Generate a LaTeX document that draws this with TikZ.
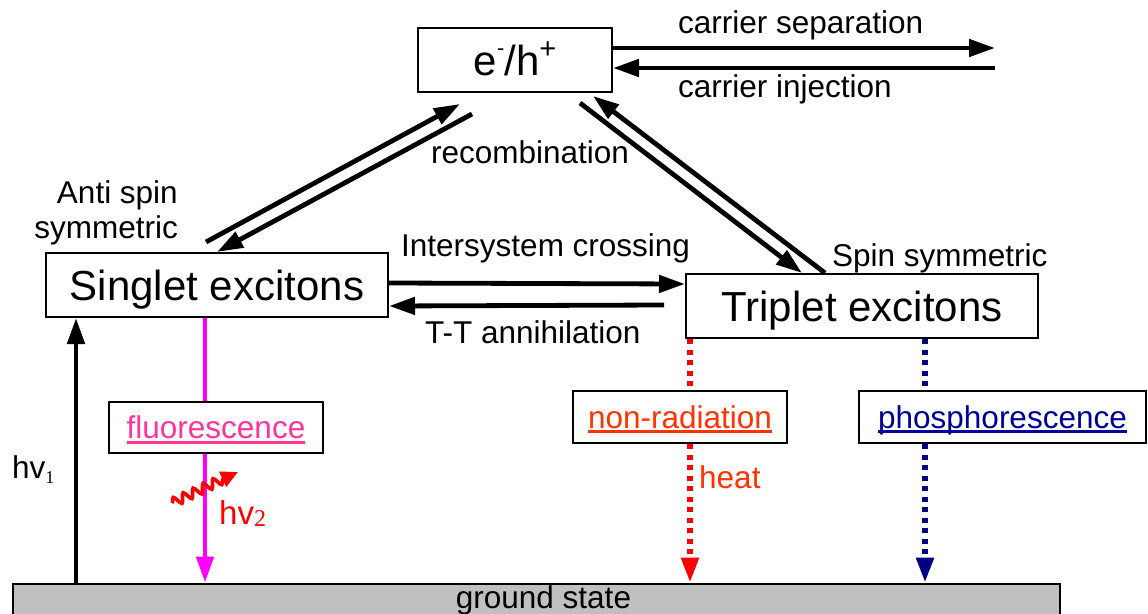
\documentclass[tikz,border=0pt]{standalone}
\usepackage{fontspec}
\setmainfont{Liberation Sans}
\newfontfamily\subfont{Liberation Serif}
\usetikzlibrary{arrows.meta,decorations.pathmorphing,calc}
\definecolor{fluo}{HTML}{FF3399}
\definecolor{mag}{HTML}{FF00FF}
\definecolor{nonrad}{HTML}{FF3300}
\definecolor{phostxt}{HTML}{000099}
\definecolor{navyline}{HTML}{000080}
\definecolor{groundgray}{HTML}{C0C0C0}
\newsavebox\ulbox
\newcommand\myul[1]{\sbox\ulbox{#1}\rlap{\rule[-5pt]{\wd\ulbox}{3pt}}\usebox\ulbox}
\begin{document}
\begin{tikzpicture}[x=1pt,y=-1pt,
  lbl/.style={font=\fontsize{31.5}{35}\selectfont, inner sep=0pt},
  bigbox/.style={draw, line width=2pt, fill=white, inner sep=0pt, font=\fontsize{42}{48}\selectfont, text height=30pt, text depth=0pt},
  smallbox/.style={draw, line width=2pt, fill=white, inner sep=0pt, font=\fontsize{31.5}{36}\selectfont, text height=22.6pt, text depth=0pt},
  arr/.style={line width=4.8pt, -{Triangle[length=26pt,width=17pt]}},
  dots/.style={line width=5.5pt, dash pattern=on 5pt off 5.5pt, -{Triangle[length=25pt,width=17pt]}},
]
\clip (0,0) rectangle (1148,613);
\fill[white] (0,0) rectangle (1148,613);

% main boxes
\node[bigbox, minimum width=194pt, minimum height=64pt] (eh) at (515,60)
  {e\raisebox{20pt}{\fontsize{22}{22}\selectfont -}/h\raisebox{17pt}{\fontsize{29}{29}\selectfont +}};
\node[bigbox, minimum width=342pt, minimum height=64pt] (s) at (217,285) {Singlet excitons};
\node[bigbox, minimum width=352pt, minimum height=64pt] (t) at (862,306) {Triplet excitons};
\node[draw, line width=2pt, fill=groundgray, minimum width=1047pt, minimum height=50pt,
  inner sep=0pt, text height=0pt, text depth=0pt, font=\fontsize{31.5}{36}\selectfont] (g) at (536.5,608.5)
  {\hspace*{14pt}ground state};

% free ends
\coordinate (csEnd) at (995,48);
\coordinate (ciStart) at (995,68);
\coordinate (r1a) at (206,242);
\coordinate (r1b) at (460,104);
\coordinate (r2a) at (472,114);
\coordinate (r3a) at (580,103);
\coordinate (ttStart) at (664,305);
\coordinate (wv1) at (172,503);
\coordinate (wv2) at (238,472);

% connectors
\draw[arr] ([yshift=12pt]eh.east) -- (csEnd);
\draw[arr] (ciStart) -- ([yshift=-8pt]eh.east);
\draw[arr] (r1a) -- (r1b);
\draw[arr] (r2a) -- (s.north);
\draw[arr] (r3a) -- ([xshift=-60pt]t.north);
\draw[arr] ([xshift=-37pt]t.north) -- ([xshift=-20pt,yshift=-3pt]eh.south east);
\draw[arr] ([yshift=2pt]s.east) -- ([yshift=22pt]t.west);
\draw[arr] (ttStart) -- ([yshift=-21pt]s.east);
\draw[arr] ([xshift=64pt]g.north west) -- ([xshift=31pt]s.south west);
\draw[arr, mag] ([xshift=160pt]s.south west) -- ([xshift=193pt]g.north west);
\draw[dots, red] ([xshift=5pt]t.south west) -- ([xshift=678pt]g.north west);
\draw[dots, navyline] ([xshift=240pt]t.south west) -- ([xshift=913pt]g.north west);

% small boxes on top
\node[smallbox, minimum width=214pt, minimum height=51pt, text=fluo] (fl) at (216,427.5) {\myul{fluorescence}};
\node[smallbox, minimum width=214pt, minimum height=52pt, text=nonrad] (nr) at (680,417) {\myul{non-radiation}};
\node[smallbox, minimum width=287pt, minimum height=52pt, text=phostxt] (ph) at (1002.5,417) {\myul{phosphorescence}};

% wavy photon
\draw[red, line width=3.6pt, decorate, decoration={snake, amplitude=4.5pt, segment length=11pt, post length=15pt},
  -{Triangle[length=17pt,width=16pt]}] (wv1) -- (wv2);

% labels
\node[lbl, anchor=base west] (csl) at (678,33) {carrier separation};
\node[lbl, anchor=base west] (cil) at (678,97) {carrier injection};
\node[lbl, anchor=base] (rec) at (530,163) {recombination};
\node[lbl, anchor=north east, align=right] (asp) at (178,180.4) {Anti spin\\symmetric};
\node[lbl, anchor=base west] (isc) at (401,256) {Intersystem crossing};
\node[lbl, anchor=base west] (ssym) at (832,266) {Spin symmetric};
\node[lbl, anchor=base west] (ttl) at (425,343) {T-T annihilation};
\node[lbl, anchor=base west, text=nonrad] (heat) at (699,488) {heat};
\node[lbl, anchor=base west] (hv1) at (12,478) {hv\raisebox{-5pt}{\subfont\fontsize{18}{18}\selectfont 1}};
\node[lbl, anchor=base west, text=red, font=\fontsize{33}{38}\selectfont] (hv2) at (219,524)
  {hv\raisebox{-2pt}{\subfont\fontsize{24}{24}\selectfont 2}};
\end{tikzpicture}
\end{document}
